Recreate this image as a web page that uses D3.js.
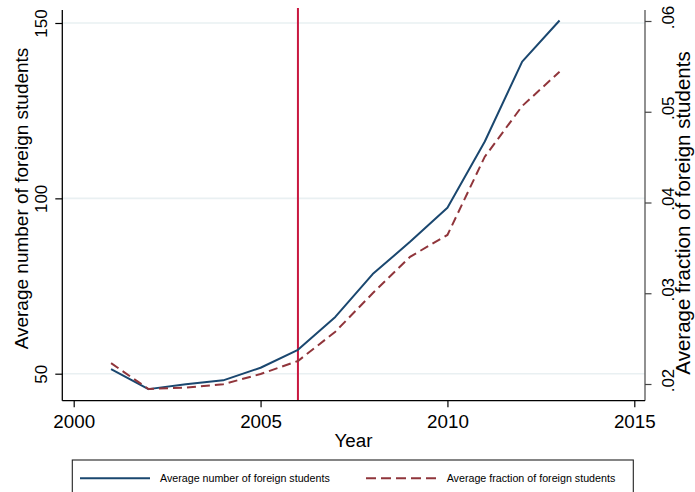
<!DOCTYPE html>
<html>
<head>
<meta charset="utf-8">
<script src="https://cdn.jsdelivr.net/npm/d3@7"></script>
<style>
  html, body { margin: 0; padding: 0; background: #fff; }
  svg { display: block; font-family: "Liberation Sans", Arial, Helvetica, sans-serif; }
</style>
</head>
<body>
<svg id="chart" width="695" height="492"></svg>
<script>
// Years and series
const years = [2001, 2002, 2003, 2004, 2005, 2006, 2007, 2008, 2009, 2010, 2011, 2012, 2013];
const avgNumber = [51.3, 45.6, 47.0, 48.1, 51.7, 56.8, 66.2, 78.4, 87.6, 97.3, 116.2, 139.0, 150.7];
const avgFraction = [0.0223, 0.01945, 0.0196, 0.01997, 0.0211, 0.02253, 0.02576, 0.0300, 0.03402, 0.03642, 0.04505, 0.05063, 0.05441];
const xTicks = [2000, 2005, 2010, 2015];
const leftTicks = [50, 100, 150];
const rightTicks = [0.02, 0.03, 0.04, 0.05, 0.06];
const rightTickLabels = [".02", ".03", ".04", ".05", ".06"];
const policyYear = 2006;
const seriesNames = ["Average number of foreign students", "Average fraction of foreign students"];

const svg = d3.select("#chart");

// Plot region
const plot = { left: 62.3, right: 645, top: 10, bottom: 400.7 };

const x = d3.scaleLinear().domain([2000, 2015]).range([73.7, 634.3]);
const yL = d3.scaleLinear().domain([50, 150]).range([373.7, 23]);
const yR = d3.scaleLinear().domain([0.02, 0.06]).range([384, 21]);

const navy = "#1a476f";
const maroon = "#90353b";
const gridCol = "#e9f0f2";

// Horizontal gridlines at the left-axis ticks
svg.append("g").selectAll("line").data(leftTicks).join("line")
  .attr("x1", plot.left).attr("x2", plot.right)
  .attr("y1", d => yL(d)).attr("y2", d => yL(d))
  .attr("stroke", gridCol).attr("stroke-width", 1.6);

// Vertical reference line
svg.append("line")
  .attr("x1", x(policyYear)).attr("x2", x(policyYear))
  .attr("y1", 8).attr("y2", plot.bottom)
  .attr("stroke", "#c8173f").attr("stroke-width", 2);

// Series lines
const lineN = d3.line().x((d, i) => x(years[i])).y(d => yL(d));
const lineF = d3.line().x((d, i) => x(years[i])).y(d => yR(d));

svg.append("path").datum(avgNumber)
  .attr("d", lineN).attr("fill", "none")
  .attr("stroke", navy).attr("stroke-width", 2).attr("stroke-linejoin", "round");

svg.append("path").datum(avgFraction)
  .attr("d", lineF).attr("fill", "none")
  .attr("stroke", maroon).attr("stroke-width", 2)
  .attr("stroke-dasharray", "9,5");

// Axis lines
svg.append("line").attr("x1", plot.left).attr("x2", plot.left)
  .attr("y1", plot.top).attr("y2", plot.bottom).attr("stroke", "#000").attr("stroke-width", 1.3);
svg.append("line").attr("x1", plot.right).attr("x2", plot.right)
  .attr("y1", plot.top).attr("y2", plot.bottom).attr("stroke", "#555").attr("stroke-width", 1.3);
svg.append("line").attr("x1", plot.left).attr("x2", plot.right)
  .attr("y1", plot.bottom).attr("y2", plot.bottom).attr("stroke", "#000").attr("stroke-width", 1.3);

// Bottom axis
const gx = svg.append("g").attr("transform", `translate(0,${plot.bottom})`)
  .call(d3.axisBottom(x).tickValues(xTicks).tickFormat(d3.format("d")).tickSize(6.5).tickSizeOuter(0));
gx.select(".domain").remove();
gx.selectAll(".tick line").attr("stroke", "#000").attr("stroke-width", 1.2);
gx.selectAll(".tick text").attr("y", 27.6).attr("dy", 0)
  .attr("font-size", "18.8px").attr("fill", "#000").attr("font-family", "Liberation Sans, Arial, sans-serif");

// Left axis
const gl = svg.append("g").attr("transform", `translate(${plot.left},0)`)
  .call(d3.axisLeft(yL).tickValues(leftTicks).tickFormat(d3.format("d")).tickSize(7).tickSizeOuter(0));
gl.select(".domain").remove();
gl.selectAll(".tick line").attr("stroke", "#000").attr("stroke-width", 1.2);
gl.selectAll(".tick text")
  .attr("transform", "rotate(-90)")
  .attr("x", 0).attr("y", -15).attr("dy", 0)
  .attr("text-anchor", "middle")
  .attr("font-size", "17px").attr("fill", "#000").attr("font-family", "Liberation Sans, Arial, sans-serif");

// Right axis
const gr = svg.append("g").attr("transform", `translate(${plot.right},0)`)
  .call(d3.axisRight(yR).tickValues(rightTicks).tickFormat((d, i) => rightTickLabels[i]).tickSize(6.5).tickSizeOuter(0));
gr.select(".domain").remove();
gr.selectAll(".tick line").attr("stroke", "#444").attr("stroke-width", 1.2);
gr.selectAll(".tick text")
  .attr("transform", "rotate(-90)")
  .attr("x", 4).attr("y", 29).attr("dy", 0)
  .attr("text-anchor", "middle")
  .attr("font-size", "17px").attr("fill", "#000").attr("font-family", "Liberation Sans, Arial, sans-serif");

// Axis titles
svg.append("text")
  .attr("transform", "translate(28,198.5) rotate(-90)")
  .attr("text-anchor", "middle").attr("font-size", "19px").attr("fill", "#000")
  .text("Average number of foreign students");

svg.append("text")
  .attr("transform", "translate(689.5,213) rotate(-90)")
  .attr("text-anchor", "middle").attr("font-size", "20.5px").attr("fill", "#000")
  .text("Average fraction of foreign students");

svg.append("text")
  .attr("x", (x(2005) + x(2010)) / 2 - 0.5).attr("y", 447)
  .attr("text-anchor", "middle").attr("font-size", "18.8px").attr("fill", "#000")
  .text("Year");

// Legend
const legend = svg.append("g");
legend.append("rect")
  .attr("x", 72.3).attr("y", 460).attr("width", 561).attr("height", 40)
  .attr("fill", "#fff").attr("stroke", "#222").attr("stroke-width", 1.1);

const legendItems = [
  { name: seriesNames[0], color: navy, dash: null, x0: 80, x1: 150, tx: 160 },
  { name: seriesNames[1], color: maroon, dash: "10,5", x0: 366, x1: 437, tx: 446.7 }
];
legendItems.forEach(item => {
  legend.append("line")
    .attr("x1", item.x0).attr("x2", item.x1).attr("y1", 478.3).attr("y2", 478.3)
    .attr("stroke", item.color).attr("stroke-width", 2)
    .attr("stroke-dasharray", item.dash);
  legend.append("text")
    .attr("x", item.tx).attr("y", 482)
    .attr("font-size", "10.7px").attr("fill", "#000")
    .text(item.name);
});
</script>
</body>
</html>
